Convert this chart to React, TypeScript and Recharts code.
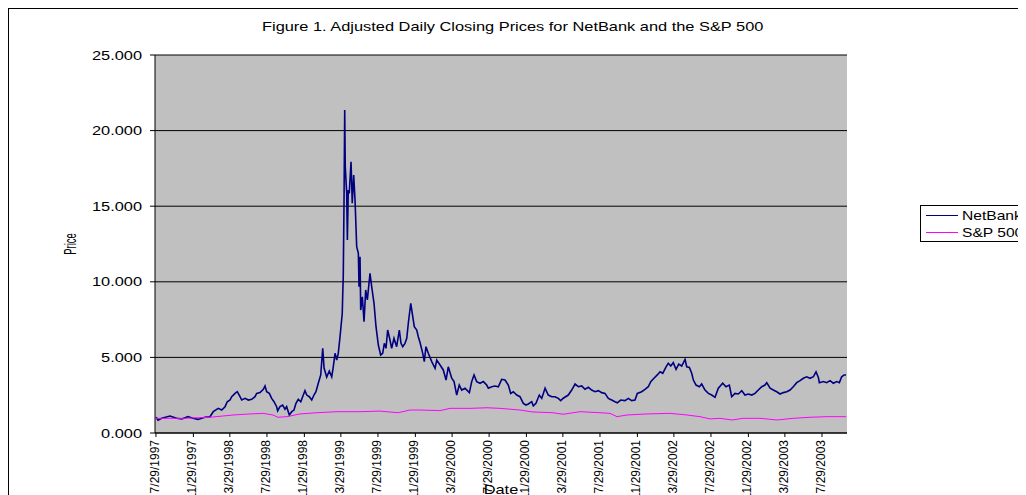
import { LineChart, Line, XAxis, YAxis, CartesianGrid } from "recharts";

const title = "Figure 1. Adjusted Daily Closing Prices for NetBank and the S&P 500";

// x tick labels (every 4 months)
const dateTicks = [
  "7/29/1997", "11/29/1997", "3/29/1998", "7/29/1998", "11/29/1998",
  "3/29/1999", "7/29/1999", "11/29/1999", "3/29/2000", "7/29/2000",
  "11/29/2000", "3/29/2001", "7/29/2001", "11/29/2001", "3/29/2002",
  "7/29/2002", "11/29/2002", "3/29/2003", "7/29/2003",
];
const priceTicks = [0, 5, 10, 15, 20, 25];

// dates as decimal years, read off the picture
const netbankYears = [
  1997.573, 1997.591, 1997.624, 1997.699, 1997.759, 1997.805, 1997.861, 1997.906, 1997.951, 1998.014,
  1998.059, 1998.089, 1998.134, 1998.165, 1998.195, 1998.215, 1998.240, 1998.255, 1998.285, 1998.305,
  1998.330, 1998.345, 1998.375, 1998.405, 1998.435, 1998.465, 1998.480, 1998.510, 1998.540, 1998.555,
  1998.570, 1998.594, 1998.615, 1998.636, 1998.660, 1998.669, 1998.690, 1998.714, 1998.735, 1998.750,
  1998.774, 1998.796, 1998.816, 1998.834, 1998.855, 1998.877, 1998.900, 1998.915, 1998.931, 1998.954,
  1998.976, 1998.996, 1999.014, 1999.035, 1999.057, 1999.075, 1999.087, 1999.111, 1999.134, 1999.156,
  1999.170, 1999.186, 1999.201, 1999.215, 1999.231, 1999.251, 1999.255, 1999.260, 1999.267, 1999.273,
  1999.278, 1999.291, 1999.297, 1999.305, 1999.314, 1999.330, 1999.341, 1999.354, 1999.366, 1999.381,
  1999.396, 1999.402, 1999.411, 1999.417, 1999.432, 1999.447, 1999.462, 1999.477, 1999.501, 1999.516,
  1999.537, 1999.555, 1999.576, 1999.597, 1999.615, 1999.630, 1999.645, 1999.660, 1999.681, 1999.696,
  1999.717, 1999.741, 1999.765, 1999.780, 1999.796, 1999.816, 1999.832, 1999.846, 1999.868, 1999.886,
  1999.900, 1999.922, 1999.936, 1999.951, 1999.976, 1999.990, 2000.005, 2000.026, 2000.057, 2000.087,
  2000.102, 2000.132, 2000.161, 2000.186, 2000.206, 2000.237, 2000.258, 2000.282, 2000.305, 2000.327,
  2000.357, 2000.396, 2000.417, 2000.438, 2000.462, 2000.492, 2000.522, 2000.552, 2000.567, 2000.597,
  2000.627, 2000.657, 2000.687, 2000.717, 2000.747, 2000.768, 2000.792, 2000.823, 2000.852, 2000.882,
  2000.906, 2000.927, 2000.958, 2000.972, 2000.996, 2001.026, 2001.048, 2001.078, 2001.107, 2001.138,
  2001.168, 2001.197, 2001.219, 2001.242, 2001.287, 2001.318, 2001.348, 2001.378, 2001.408, 2001.438,
  2001.468, 2001.498, 2001.528, 2001.558, 2001.588, 2001.618, 2001.648, 2001.678, 2001.708, 2001.729,
  2001.759, 2001.798, 2001.828, 2001.858, 2001.888, 2001.909, 2001.948, 2001.978, 2002.008, 2002.030,
  2002.059, 2002.089, 2002.114, 2002.138, 2002.168, 2002.188, 2002.210, 2002.233, 2002.258, 2002.282,
  2002.309, 2002.339, 2002.354, 2002.378, 2002.399, 2002.414, 2002.438, 2002.468, 2002.489, 2002.519,
  2002.549, 2002.579, 2002.609, 2002.639, 2002.678, 2002.708, 2002.738, 2002.759, 2002.789, 2002.819,
  2002.850, 2002.879, 2002.909, 2002.940, 2002.969, 2002.999, 2003.030, 2003.059, 2003.075, 2003.105,
  2003.134, 2003.165, 2003.195, 2003.224, 2003.255, 2003.285, 2003.314, 2003.345, 2003.375, 2003.405,
  2003.435, 2003.465, 2003.495, 2003.519, 2003.540, 2003.549, 2003.585, 2003.615, 2003.645, 2003.675,
  2003.705, 2003.729, 2003.750, 2003.771, 2003.789,
];
const netbankPrices = [
  1.05, 0.85, 0.97, 1.12, 0.97, 0.93, 1.08, 0.97, 0.90, 1.04,
  1.08, 1.41, 1.63, 1.52, 1.74, 2.07, 2.18, 2.40, 2.62, 2.73,
  2.40, 2.18, 2.29, 2.18, 2.23, 2.40, 2.62, 2.67, 2.89, 3.11,
  2.73, 2.62, 2.29, 2.07, 1.74, 1.47, 1.74, 1.85, 1.57, 1.74,
  1.19, 1.41, 1.52, 1.96, 2.23, 2.07, 2.51, 2.80, 2.51, 2.40,
  2.18, 2.51, 2.73, 3.29, 3.84, 5.60, 4.30, 3.70, 4.10, 3.72,
  4.38, 5.27, 4.83, 5.27, 6.37, 7.92, 9.13, 10.34, 15.40, 21.36,
  17.60, 15.85, 12.76, 16.07, 15.85, 17.94, 15.19, 17.06, 15.41, 12.32,
  11.88, 9.68, 11.66, 8.13, 9.01, 7.36, 9.46, 8.80, 10.56, 9.68,
  8.58, 7.03, 5.82, 5.16, 5.27, 5.93, 5.60, 6.81, 6.15, 5.60,
  6.26, 5.71, 6.81, 5.93, 5.71, 5.93, 6.26, 7.26, 8.58, 7.69,
  7.03, 6.81, 6.37, 6.00, 5.27, 4.72, 5.71, 5.27, 4.72, 4.28,
  4.83, 4.50, 4.17, 3.50, 4.38, 3.62, 3.40, 2.51, 3.17, 2.84,
  2.96, 2.67, 3.40, 3.84, 3.40, 3.29, 3.40, 3.17, 2.96, 3.06,
  3.11, 3.06, 3.55, 3.50, 3.17, 2.62, 2.73, 2.51, 2.40, 1.96,
  1.85, 1.92, 2.07, 1.79, 1.96, 2.51, 2.29, 2.96, 2.51, 2.40,
  2.40, 2.29, 2.14, 2.30, 2.51, 2.84, 3.24, 3.06, 3.11, 2.89,
  3.02, 2.84, 2.73, 2.80, 2.67, 2.62, 2.29, 2.18, 2.07, 2.00,
  2.18, 2.14, 2.29, 2.14, 2.18, 2.62, 2.73, 2.89, 3.06, 3.40,
  3.62, 3.84, 4.05, 3.95, 4.38, 4.61, 4.43, 4.65, 4.21, 4.56,
  4.43, 4.87, 4.38, 4.34, 3.95, 3.50, 3.17, 3.06, 3.24, 2.84,
  2.62, 2.51, 2.36, 2.96, 3.29, 3.06, 3.17, 2.40, 2.62, 2.58,
  2.80, 2.51, 2.58, 2.51, 2.62, 2.84, 3.06, 3.17, 3.33, 2.96,
  2.84, 2.73, 2.58, 2.67, 2.73, 2.84, 3.06, 3.33, 3.46, 3.62,
  3.72, 3.62, 3.72, 4.05, 3.68, 3.33, 3.40, 3.33, 3.46, 3.29,
  3.40, 3.33, 3.72, 3.84, 3.84,
];

const sp500Years = [
  1997.573, 1997.816, 1998.059, 1998.267, 1998.420, 1998.537, 1998.627, 1998.672, 1998.753, 1998.870,
  1999.023, 1999.204, 1999.411, 1999.591, 1999.753, 1999.861, 1999.951, 2000.132, 2000.222, 2000.402,
  2000.555, 2000.672, 2000.852, 2000.969, 2001.150, 2001.240, 2001.294, 2001.393, 2001.573, 2001.663,
  2001.726, 2001.816, 2001.996, 2002.204, 2002.357, 2002.474, 2002.564, 2002.654, 2002.762, 2002.861,
  2003.014, 2003.168, 2003.312, 2003.465, 2003.618, 2003.789,
];
const sp500Prices = [
  0.97, 0.97, 1.04, 1.19, 1.26, 1.30, 1.19, 1.04, 1.08, 1.26,
  1.34, 1.41, 1.41, 1.45, 1.34, 1.52, 1.52, 1.48, 1.63, 1.63,
  1.67, 1.63, 1.52, 1.39, 1.34, 1.24, 1.30, 1.41, 1.34, 1.30,
  1.08, 1.19, 1.26, 1.30, 1.19, 1.08, 0.93, 0.97, 0.86, 0.97,
  0.97, 0.86, 0.97, 1.04, 1.08, 1.08,
];

const netbankData = netbankYears.map((t, i) => ({ t, price: netbankPrices[i] }));
const sp500Data = sp500Years.map((t, i) => ({ t, price: sp500Prices[i] }));

const toYear = (s: string) => {
  const [m, d, y] = s.split("/").map(Number);
  const start = Date.UTC(y, 0, 1);
  const len = Date.UTC(y + 1, 0, 1) - start;
  return y + (Date.UTC(y, m - 1, d) - start) / len;
};
const tickYears = dateTicks.map(toYear);
const labelFor = (v: number) => dateTicks[tickYears.findIndex((t) => Math.abs(t - v) < 1e-6)] ?? "";

const FONT = "'Liberation Sans', Arial, sans-serif";
const SX = 1.26; // the original is stretched sideways

const YTick = ({ x, y, payload }: any) => (
  <text x={x} y={y} dy="0.355em" textAnchor="end" fontSize={13} fill="#000" fontFamily={FONT}
    transform={`translate(${x} ${y}) scale(${SX} 1) translate(${-x} ${-y})`}>
    {Number(payload.value).toFixed(3)}
  </text>
);

const XTick = ({ x, y, payload }: any) => (
  <text x={0} y={0} dy="0.355em" textAnchor="end" fontSize={12} fill="#000" fontFamily={FONT}
    transform={`translate(${x - 2} ${y}) scale(1.1 1) rotate(-90)`}>
    {labelFor(payload.value)}
  </text>
);

export default function App() {
  return (
    <div style={{ position: "relative", width: 1040, height: 500, border: "1px solid #000", fontFamily: FONT }}>
      <style>{"body{overflow:hidden}"}</style>
      <div style={{ position: "absolute", left: 253, top: 10, fontSize: 13, lineHeight: "15px",
        whiteSpace: "nowrap", transform: `scaleX(${SX})`, transformOrigin: "0 0" }}>
        {title}
      </div>
      <LineChart width={1040} height={500} data={netbankData}
        margin={{ top: 46, right: 202, left: 0, bottom: 6 }}>
        <CartesianGrid vertical={false} stroke="#000" fill="#C0C0C0" fillOpacity={1} />
        <XAxis dataKey="t" type="number" domain={[1997.564, 2003.798]} ticks={tickYears}
          interval={0} allowDataOverflow height={70} tickSize={4} tickMargin={3}
          tick={<XTick />} axisLine={{ stroke: "#000" }} tickLine={{ stroke: "#000" }}
          label={{
            content: ({ viewBox }: any) => (
              <text x={viewBox.x + viewBox.width / 2} y={viewBox.y + 61} textAnchor="middle"
                fontSize={13} fontFamily={FONT} fill="#000"
                transform={`translate(${viewBox.x + viewBox.width / 2} 0) scale(${SX} 1) translate(${-(viewBox.x + viewBox.width / 2)} 0)`}>
                Date
              </text>
            ),
          }} />
        <XAxis xAxisId="top" orientation="top" type="number" domain={[1997.564, 2003.798]}
          height={0} tick={false} tickLine={false} axisLine={{ stroke: "#808080", strokeWidth: 2 }} />
        <YAxis type="number" domain={[0, 25]} ticks={priceTicks} width={146} tickSize={5} tickMargin={8}
          tick={<YTick />} axisLine={{ stroke: "#000" }} tickLine={{ stroke: "#000" }}
          label={{
            content: ({ viewBox }: any) => (
              <text x={0} y={0} dy="0.355em" textAnchor="middle" fontSize={12} fontFamily={FONT} fill="#000"
                transform={`translate(61 ${viewBox.y + viewBox.height / 2}) scale(1.3 0.78) rotate(-90)`}>
                Price
              </text>
            ),
          }} />
        <YAxis yAxisId="right" orientation="right" type="number" domain={[0, 25]} width={0}
          tick={false} tickLine={false} axisLine={{ stroke: "#808080", strokeWidth: 2 }} />
        <Line data={netbankData} dataKey="price" name="NetBank" type="linear" stroke="#000080"
          strokeWidth={1.6} dot={false} isAnimationActive={false} />
        <Line data={sp500Data} dataKey="price" name="S&P 500" type="linear" stroke="#FF00FF"
          strokeWidth={1} dot={false} isAnimationActive={false} />
      </LineChart>
      <div style={{ position: "absolute", left: 911, top: 196, width: 140, height: 35,
        border: "1px solid #000", background: "#fff", fontSize: 13 }}>
        {[["NetBank", "#000080"], ["S&P 500", "#FF00FF"]].map(([name, color], i) => (
          <div key={name} style={{ position: "absolute", left: 5, top: 2 + i * 17, height: 15,
            display: "flex", alignItems: "center", whiteSpace: "nowrap" }}>
            <span style={{ display: "inline-block", width: 32, height: 1, background: color, marginRight: 4 }} />
            <span style={{ display: "inline-block", transform: "scaleX(1.2)", transformOrigin: "0 50%" }}>{name}</span>
          </div>
        ))}
      </div>
    </div>
  );
}
